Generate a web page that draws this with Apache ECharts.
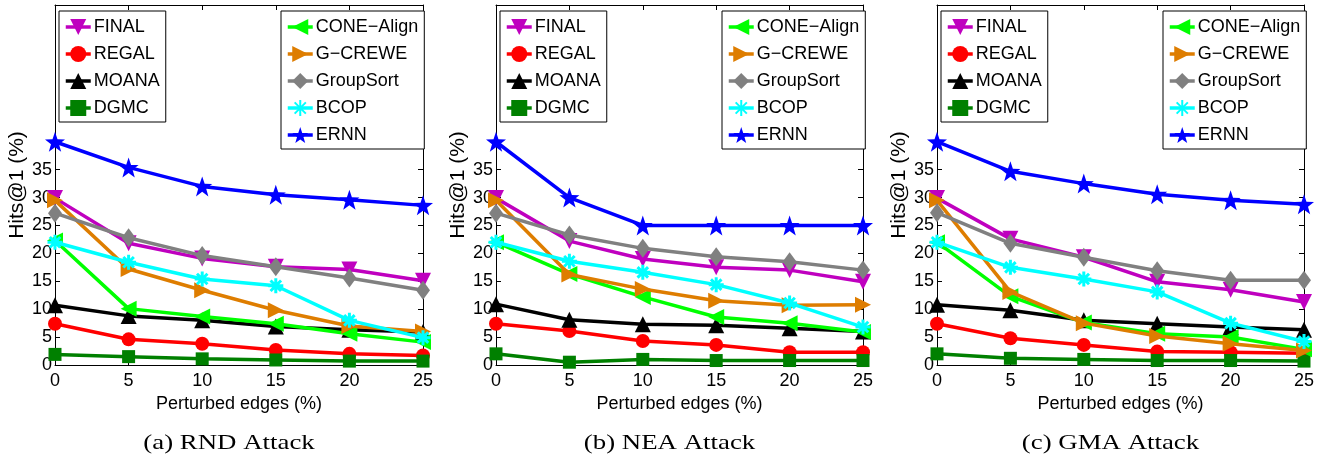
<!DOCTYPE html>
<html>
<head>
<meta charset="utf-8">
<script src="https://cdn.jsdelivr.net/npm/echarts@6/dist/echarts.min.js"></script>
<style>
html,body{margin:0;padding:0;background:#fff;}
#main{width:1333px;height:466px;}
</style>
</head>
<body>
<div id="main"></div>
<script>
// ---- Data ----
const xValues = [0, 5, 10, 15, 20, 25];
const yTicks = [0, 5, 10, 15, 20, 25, 30, 35];
const xTicks = [0, 5, 10, 15, 20, 25];
const methods = ['FINAL', 'REGAL', 'MOANA', 'DGMC', 'CONE−Align', 'G−CREWE', 'GroupSort', 'BCOP', 'ERNN'];
const captions = ['(a) RND Attack', '(b) NEA Attack', '(c) GMA Attack'];
const xAxisName = 'Perturbed edges (%)';
const yAxisName = 'Hits@1 (%)';

// (a) RND Attack
const rndFINAL     = [29.9, 21.8, 19.1, 17.6, 17.1, 15.1];
const rndREGAL     = [7.4, 4.6, 3.8, 2.7, 2.0, 1.7];
const rndMOANA     = [10.7, 8.8, 8.0, 6.9, 6.3, 5.9];
const rndDGMC      = [1.9, 1.5, 1.1, 0.9, 0.7, 0.7];
const rndCONE      = [22.3, 10.1, 8.7, 7.4, 5.6, 4.1];
const rndGCREWE    = [29.5, 17.2, 13.4, 9.8, 7.0, 6.0];
const rndGroupSort = [27.2, 22.8, 19.6, 17.6, 15.6, 13.4];
const rndBCOP      = [22.0, 18.4, 15.4, 14.2, 8.0, 4.9];
const rndERNN      = [40.0, 35.4, 32.0, 30.5, 29.6, 28.6];

// (b) NEA Attack
const neaFINAL     = [29.9, 22.2, 19.0, 17.5, 17.0, 14.9];
const neaREGAL     = [7.4, 6.1, 4.3, 3.6, 2.3, 2.3];
const neaMOANA     = [10.9, 8.1, 7.3, 7.1, 6.6, 6.0];
const neaDGMC      = [2.0, 0.5, 1.0, 0.8, 0.8, 0.8];
const neaCONE      = [22.0, 16.3, 12.2, 8.6, 7.5, 5.9];
const neaGCREWE    = [29.5, 16.2, 13.6, 11.5, 10.7, 10.8];
const neaGroupSort = [27.2, 23.3, 20.9, 19.4, 18.5, 17.0];
const neaBCOP      = [22.0, 18.6, 16.6, 14.4, 11.1, 6.8];
const neaERNN      = [40.0, 30.0, 25.0, 25.0, 25.0, 25.0];

// (c) GMA Attack
const gmaFINAL     = [29.9, 22.6, 19.3, 14.9, 13.5, 11.3];
const gmaREGAL     = [7.4, 4.8, 3.6, 2.4, 2.3, 2.1];
const gmaMOANA     = [10.8, 9.8, 8.0, 7.4, 6.8, 6.3];
const gmaDGMC      = [2.0, 1.2, 1.0, 0.8, 0.8, 0.7];
const gmaCONE      = [22.0, 12.3, 7.6, 5.6, 5.0, 2.8];
const gmaGCREWE    = [29.5, 13.1, 7.5, 5.2, 3.8, 2.6];
const gmaGroupSort = [27.3, 21.8, 19.3, 16.9, 15.2, 15.2];
const gmaBCOP      = [22.0, 17.5, 15.4, 13.1, 7.5, 4.2];
const gmaERNN      = [40.0, 34.7, 32.5, 30.6, 29.5, 28.8];

const panelData = [
  [rndFINAL, rndREGAL, rndMOANA, rndDGMC, rndCONE, rndGCREWE, rndGroupSort, rndBCOP, rndERNN],
  [neaFINAL, neaREGAL, neaMOANA, neaDGMC, neaCONE, neaGCREWE, neaGroupSort, neaBCOP, neaERNN],
  [gmaFINAL, gmaREGAL, gmaMOANA, gmaDGMC, gmaCONE, gmaGCREWE, gmaGroupSort, gmaBCOP, gmaERNN]
];

// ---- Styles ----
const colors = ['#bf00bf', '#ff0000', '#000000', '#008000', '#00ff00', '#de7d00', '#808080', '#00ffff', '#0000ff'];
const STAR = 'path://M5,0 L6.176,3.382 L9.755,3.455 L6.902,5.618 L7.939,9.045 L5,7 L2.061,9.045 L3.098,5.618 L0.245,3.455 L3.824,3.382 Z';
const symbols = [
  'path://M0,0 L10,0 L5,9 Z',        // down triangle
  'circle',
  'triangle',
  'rect',
  'path://M9,0 L9,10 L0,5 Z',        // left triangle
  'path://M0,0 L9,5 L0,10 Z',        // right triangle
  'diamond',
  'path://M0,5 L10,5 M5,0 L5,10 M1.5,1.5 L8.5,8.5 M8.5,1.5 L1.5,8.5', // asterisk
  STAR
];
const symSizes = [16, 14, 16, 13, 16, 16, [14, 19], 15, 20];

const FONT = 'Liberation Sans';
const grids = [
  {left: 55, top: 5, width: 368, height: 360},
  {left: 496, top: 5, width: 367, height: 360},
  {left: 937, top: 5, width: 367, height: 360}
];
const YMAX = 64.5;

const xAxes = [], yAxes = [], series = [], legends = [], graphics = [];
grids.forEach((g, k) => {
  xAxes.push({
    gridIndex: k, type: 'value', min: 0, max: 25, interval: 5, position: 'bottom',
    name: xAxisName, nameLocation: 'middle', nameGap: 30,
    nameTextStyle: {fontFamily: FONT, fontSize: 18, color: '#000'},
    axisLine: {onZero: false, lineStyle: {color: '#000', width: 1}},
    axisTick: {inside: true, length: 5, lineStyle: {color: '#000'}},
    axisLabel: {fontFamily: FONT, fontSize: 18, color: '#000', margin: 7},
    splitLine: {show: false}
  });
  xAxes.push({
    gridIndex: k, type: 'value', min: 0, max: 25, interval: 5, position: 'top',
    axisLine: {onZero: false, lineStyle: {color: '#000', width: 1}},
    axisTick: {inside: true, length: 5, lineStyle: {color: '#000'}},
    axisLabel: {show: false}, splitLine: {show: false}
  });
  yAxes.push({
    gridIndex: k, type: 'value', min: 0, max: YMAX, position: 'left',
    name: yAxisName, nameLocation: 'middle', nameGap: 27, nameRotate: 90,
    nameTextStyle: {fontFamily: FONT, fontSize: 21, color: '#000'},
    axisLine: {show: true, onZero: false, lineStyle: {color: '#000', width: 1}},
    axisTick: {show: true, inside: true, length: 5, customValues: yTicks, lineStyle: {color: '#000'}},
    axisLabel: {fontFamily: FONT, fontSize: 18, color: '#000', margin: 3, customValues: yTicks},
    splitLine: {show: false}
  });
  yAxes.push({
    gridIndex: k, type: 'value', min: 0, max: YMAX, position: 'right',
    axisLine: {show: true, onZero: false, lineStyle: {color: '#000', width: 1}},
    axisTick: {show: true, inside: true, length: 5, customValues: yTicks, lineStyle: {color: '#000'}},
    axisLabel: {show: false}, splitLine: {show: false}
  });
  methods.forEach((m, i) => {
    series.push({
      name: m, type: 'line', xAxisIndex: 2 * k, yAxisIndex: 2 * k,
      data: xValues.map((x, j) => [x, panelData[k][i][j]]),
      symbol: symbols[i], symbolSize: symSizes[i], symbolKeepAspect: false,
      showAllSymbol: true, clip: false, animation: false,
      lineStyle: {color: colors[i], width: 3.5},
      itemStyle: i === 7 ? {color: colors[i], borderColor: colors[i], borderWidth: 3} : {color: colors[i]},
      z: 2 + i
    });
  });
  const legendCommon = {
    orient: 'vertical', top: 11,
    backgroundColor: '#fff', borderColor: '#000', borderWidth: 1,
    padding: [7, 6, 5, 5], itemGap: 9, itemWidth: 25, itemHeight: 20,
    lineStyle: {width: 3.5},
    textStyle: {fontFamily: FONT, fontSize: 18, color: '#000', padding: [0, 0, 0, -2]},
    selectedMode: false
  };
  legends.push(Object.assign({}, legendCommon, {data: methods.slice(0, 4), left: g.left + 4}));
  legends.push(Object.assign({}, legendCommon, {data: methods.slice(4), left: g.left + 226}));
  graphics.push({
    type: 'text', x: g.left + g.width / 2 - 10, y: 443, scaleX: 1.22,
    style: {text: captions[k], font: '22px "Liberation Serif"', fill: '#000', align: 'center', verticalAlign: 'middle'}
  });
});

const chart = echarts.init(document.getElementById('main'), null, {renderer: 'canvas'});
chart.setOption({
  backgroundColor: '#fff',
  animation: false,
  grid: grids,
  xAxis: xAxes,
  yAxis: yAxes,
  legend: legends,
  series: series,
  graphic: graphics
});
</script>
</body>
</html>
